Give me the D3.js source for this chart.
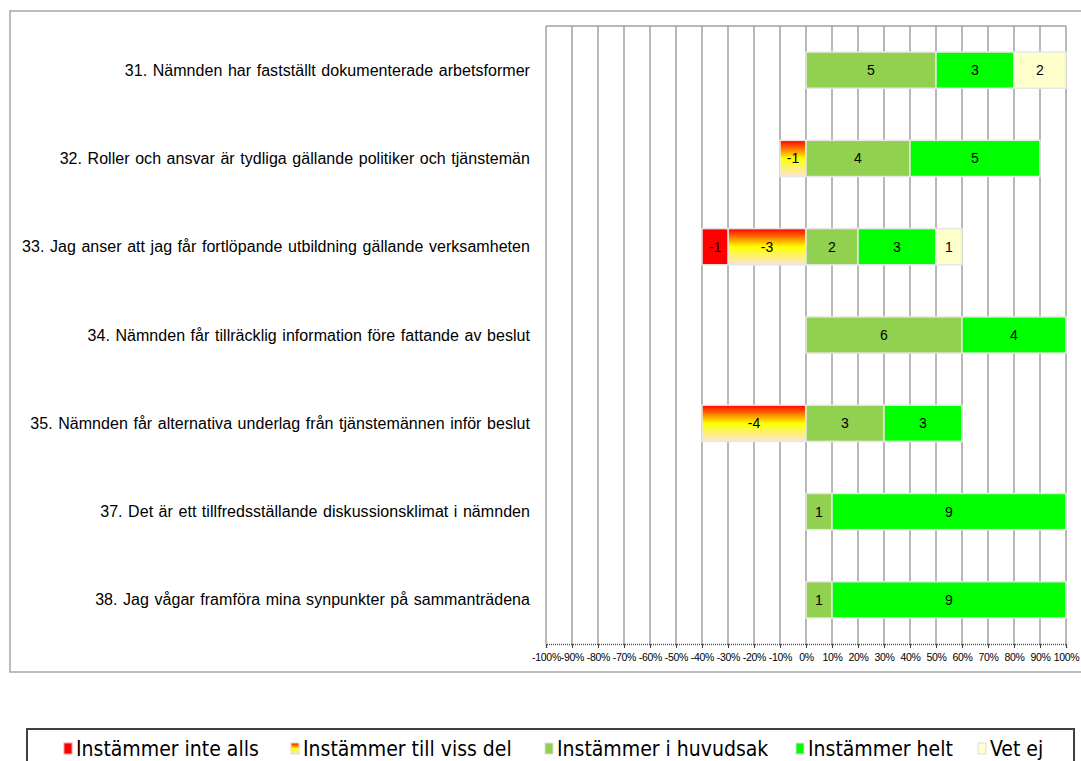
<!DOCTYPE html>
<html><head><meta charset="utf-8">
<script src="https://cdn.jsdelivr.net/npm/d3@7"></script>
<style>
html,body{margin:0;padding:0;background:#fff;overflow:hidden}
svg{display:block}
</style></head>
<body>
<svg id="c" width="1081" height="761"></svg>
<script>
// ---- data ----
const questions = [
  "31. Nämnden har fastställt dokumenterade arbetsformer",
  "32. Roller och ansvar är tydliga gällande politiker och tjänstemän",
  "33. Jag anser att jag får fortlöpande utbildning gällande verksamheten",
  "34. Nämnden får tillräcklig information före fattande av beslut",
  "35. Nämnden får alternativa underlag från tjänstemännen inför beslut",
  "37. Det är ett tillfredsställande diskussionsklimat i nämnden",
  "38. Jag vågar framföra mina synpunkter på sammanträdena"
];
const seriesNames = ["Instämmer inte alls","Instämmer till viss del","Instämmer i huvudsak","Instämmer helt","Vet ej"];
const inteAlls   = [0, 0, -1, 0, 0, 0, 0];
const vissDel    = [0, -1, -3, 0, -4, 0, 0];
const huvudsak   = [5, 4, 2, 6, 3, 1, 1];
const helt       = [3, 5, 3, 4, 3, 9, 9];
const vetEj      = [2, 0, 1, 0, 0, 0, 0];
const respondents = 10;
const tickValues = [-1,-0.9,-0.8,-0.7,-0.6,-0.5,-0.4,-0.3,-0.2,-0.1,0,0.1,0.2,0.3,0.4,0.5,0.6,0.7,0.8,0.9,1];

const svg = d3.select("#c");
const defs = svg.append("defs");
const g1 = defs.append("linearGradient").attr("id","gViss").attr("x1",0).attr("y1",0).attr("x2",0).attr("y2",1);
g1.append("stop").attr("offset","0%").attr("stop-color","#ff0000");
g1.append("stop").attr("offset","50%").attr("stop-color","#ffff00");
g1.append("stop").attr("offset","100%").attr("stop-color","#fbe5d6");

const fills = ["#ff0000","url(#gViss)","#92d050","#00ff00","#ffffcc"];

// outer frame
svg.append("rect").attr("x",10).attr("y",11).attr("width",1100).attr("height",661)
  .attr("fill","none").attr("stroke","#a6a6a6").attr("stroke-width",1.5);

const x = d3.scaleLinear().domain([-1,1]).range([546,1066]);
const y = d3.scaleBand().domain(questions).range([26,644]).paddingInner(0.59).paddingOuter(0.295);

// gridlines
svg.append("g").selectAll("line").data(tickValues).join("line")
  .attr("x1",d=>x(d)).attr("x2",d=>x(d)).attr("y1",26).attr("y2",644)
  .attr("stroke","#a0a0a0").attr("stroke-width",1.5);
svg.append("line").attr("x1",x(-1)).attr("x2",x(1)).attr("y1",26).attr("y2",26)
  .attr("stroke","#a0a0a0").attr("stroke-width",1.5);

// build segments
const rows = questions.map((q,i)=>{
  const segs = [];
  let neg = 0;
  [[1,vissDel[i]],[0,inteAlls[i]]].forEach(([s,v])=>{
    if(v!==0){ const a = neg, b = neg + v/respondents; segs.push({q,s,v,x0:b,x1:a}); neg = b; }
  });
  let pos = 0;
  [[2,huvudsak[i]],[3,helt[i]],[4,vetEj[i]]].forEach(([s,v])=>{
    if(v!==0){ const a = pos, b = pos + v/respondents; segs.push({q,s,v,x0:a,x1:b}); pos = b; }
  });
  return segs;
}).flat();

const bars = svg.append("g");
bars.selectAll("rect").data(rows).join("rect")
  .attr("x",d=>x(d.x0)).attr("width",d=>x(d.x1)-x(d.x0))
  .attr("y",d=>y(d.q)).attr("height",y.bandwidth())
  .attr("fill",d=>fills[d.s]).attr("stroke","#e6e6e6").attr("stroke-width",1.5);
bars.selectAll("text").data(rows).join("text")
  .attr("x",d=>(x(d.x0)+x(d.x1))/2).attr("y",d=>y(d.q)+y.bandwidth()/2)
  .attr("text-anchor","middle").attr("dominant-baseline","central")
  .attr("font-family","Liberation Sans, Arial, sans-serif").attr("font-size",14).attr("fill","#000")
  .text(d=>d.v);

// category labels
svg.append("g").selectAll("text").data(questions).join("text")
  .attr("x",530).attr("y",d=>y(d)+y.bandwidth()/2)
  .attr("text-anchor","end").attr("dominant-baseline","central")
  .attr("font-family","Liberation Sans, Arial, sans-serif").attr("font-size",16)
  .attr("letter-spacing","0.05px").attr("word-spacing","1px").attr("fill","#000")
  .text(d=>d);

// x axis
const ax = svg.append("g").attr("transform","translate(0,644)")
  .call(d3.axisBottom(x).tickValues(tickValues).tickSize(4).tickFormat(d=>Math.round(d*100)+"%"));
ax.select(".domain").attr("stroke","#555").attr("stroke-dasharray","1,1").attr("stroke-width",1.5);
ax.selectAll(".tick line").attr("stroke","#444");
ax.selectAll(".tick text").attr("font-family","Liberation Sans, Arial, sans-serif").attr("font-size",10.5)
  .attr("letter-spacing","-0.3px").attr("fill","#000").attr("dy","0.95em");

// legend
const lg = svg.append("g");
lg.append("rect").attr("x",27).attr("y",729).attr("width",1047).attr("height",60)
  .attr("fill","#fff").attr("stroke","#404040").attr("stroke-width",2);
const legX = [64, 291, 545, 796, 978];
const items = lg.selectAll("g").data(seriesNames).join("g")
  .attr("transform",(d,i)=>`translate(${legX[i]},743)`);
items.append("rect").attr("width",8).attr("height",11)
  .attr("fill",(d,i)=>fills[i]).attr("stroke",(d,i)=>i===0?"#ff9999":"#dddddd").attr("stroke-width",1);
items.append("text").attr("x",12).attr("y",6).attr("dominant-baseline","central")
  .attr("font-family","Liberation Sans Narrow, DejaVu Sans Condensed, Arial Narrow, sans-serif")
  .attr("font-size",21).attr("fill","#000").text(d=>d);
</script>
</body></html>
